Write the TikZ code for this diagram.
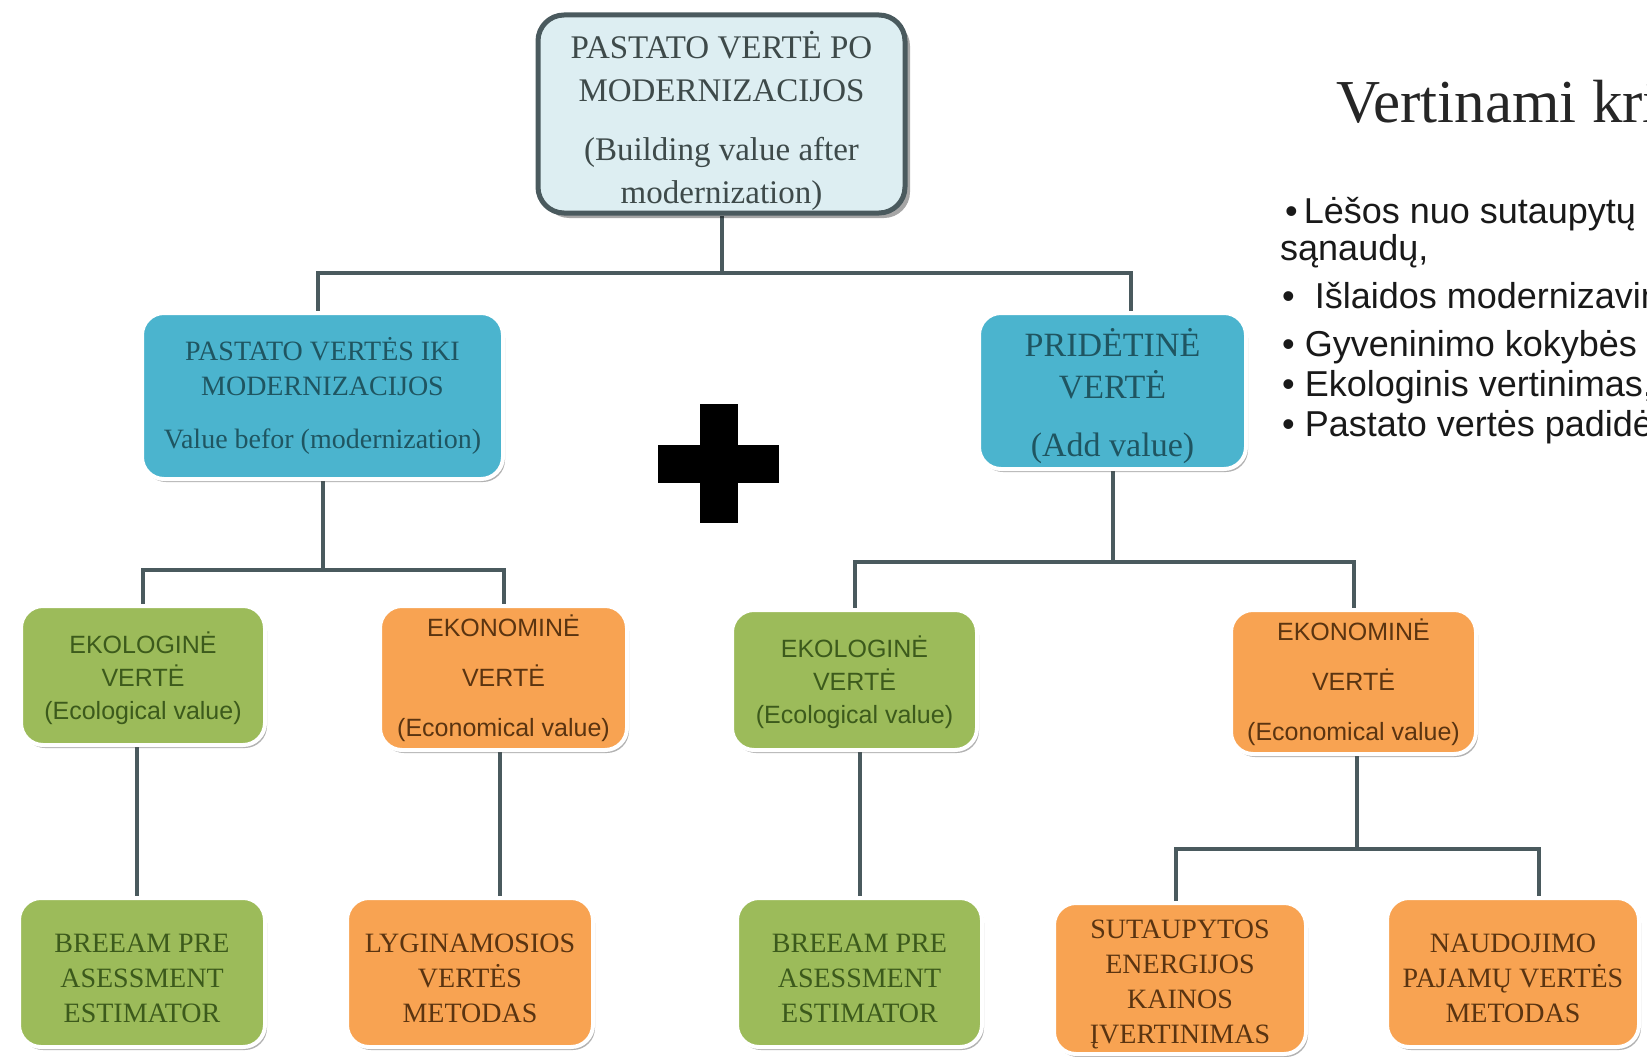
\documentclass[tikz,border=0pt]{standalone}
\usepackage{fontspec}
\setmainfont{Liberation Serif}
\newfontfamily\sansA{Liberation Sans}
\usetikzlibrary{shadows,backgrounds}
\definecolor{conncol}{HTML}{4A5A5E}
\definecolor{topfill}{HTML}{DDEEF2}
\definecolor{bluefill}{HTML}{4BB4CE}
\definecolor{bluetext}{HTML}{1F5561}
\definecolor{greenfill}{HTML}{9CBB5A}
\definecolor{greentext}{HTML}{3C5A1C}
\definecolor{orangefill}{HTML}{F8A352}
\definecolor{orangetext}{HTML}{5A3411}
\definecolor{toptext}{HTML}{3E4A4A}
\newcommand{\topstrut}[1]{\rule{0pt}{#1}}
\begin{document}
\begin{tikzpicture}[x=1pt,y=-1pt,
 box/.style={rounded corners=22pt, inner sep=0pt, align=center, draw=white, line width=4pt,
   drop shadow={shadow xshift=2pt, shadow yshift=-3pt, opacity=0.3, fill=black}},
 topbox/.style={rounded corners=26pt, inner sep=0pt, align=center, draw=conncol, line width=5pt,
   fill=topfill, text=toptext, drop shadow={shadow xshift=5pt, shadow yshift=-5pt, opacity=0.35, fill=black}},
 bluebox/.style={box, fill=bluefill, text=bluetext},
 greenbox/.style={box, fill=greenfill, text=greentext},
 orangebox/.style={box, fill=orangefill, text=orangetext},
 conn/.style={draw=conncol, line width=4pt},
 sansL/.style={font=\sansA\fontsize{25}{33}\selectfont},
 serifL/.style={font=\fontsize{28}{35}\selectfont},
 panel/.style={anchor=base west, inner sep=0pt, font=\sansA\fontsize{36}{40}\selectfont, text=black!90},
]
\useasboundingbox (0,0) rectangle (1647,1057);

% top
\node[topbox, minimum width=367pt, minimum height=198pt, font=\fontsize{33}{43}\selectfont] (top) at (721.5,114)
 {\topstrut{42pt}PASTATO VERTĖ PO\\ MODERNIZACIJOS\\[16pt] (Building value after\\ modernization)};

% level 2
\node[bluebox, minimum width=361pt, minimum height=166pt, font=\fontsize{28}{35}\selectfont] (bL) at (322.5,396)
 {PASTATO VERTĖS IKI\\ MODERNIZACIJOS\\[18pt] Value befor (modernization)};
\node[bluebox, minimum width=267pt, minimum height=156pt, font=\fontsize{34}{42}\selectfont] (bR) at (1112.5,391)
 {\topstrut{38pt}PRIDĖTINĖ\\ VERTĖ\\[16pt] (Add value)};

% plus sign
\fill[black] (658,445) rectangle (779,483);
\fill[black] (700,404) rectangle (738,523);

% level 3
\node[greenbox, sansL, minimum width=244pt, minimum height=139pt] (e1) at (143,675.5)
 {\topstrut{28pt}EKOLOGINĖ\\ VERTĖ\\ (Ecological value)};
\node[orangebox, font=\sansA\fontsize{25}{50}\selectfont, minimum width=247pt, minimum height=144pt] (n1) at (503.5,678)
 {EKONOMINĖ\\ VERTĖ\\ (Economical value)};
\node[greenbox, sansL, minimum width=245pt, minimum height=140pt] (e2) at (854.5,680)
 {\topstrut{26pt}EKOLOGINĖ\\ VERTĖ\\ (Ecological value)};
\node[orangebox, font=\sansA\fontsize{25}{50}\selectfont, minimum width=245pt, minimum height=144pt] (n2) at (1353.5,682)
 {EKONOMINĖ\\ VERTĖ\\ (Economical value)};

% level 4
\node[greenbox, serifL, minimum width=246pt, minimum height=149pt] (b1) at (142,972.5)
 {\topstrut{31pt}BREEAM PRE\\ ASESSMENT\\ ESTIMATOR};
\node[orangebox, serifL, minimum width=246pt, minimum height=149pt] (l1) at (470,972.5)
 {\topstrut{31pt}LYGINAMOSIOS\\ VERTĖS\\ METODAS};
\node[greenbox, serifL, minimum width=245pt, minimum height=149pt] (b2) at (859.5,972.5)
 {\topstrut{31pt}BREEAM PRE\\ ASESSMENT\\ ESTIMATOR};
\node[orangebox, serifL, minimum width=252pt, minimum height=151pt] (s2) at (1180,978.5)
 {\topstrut{31pt}SUTAUPYTOS\\ ENERGIJOS\\ KAINOS\\ ĮVERTINIMAS};
\node[orangebox, serifL, minimum width=252pt, minimum height=149pt] (p2) at (1513,972.5)
 {\topstrut{31pt}NAUDOJIMO\\ PAJAMŲ VERTĖS\\ METODAS};

% connectors
\coordinate (h0) at (0,273);
\coordinate (h1) at (0,570);
\coordinate (h2) at (0,562);
\coordinate (h3) at (0,849);
\begin{scope}[on background layer]
\draw[conn] (top.south) -- (top.south |- h0);
\draw[conn] ([xshift=-5pt]bL.north) |- ([xshift=18pt]bR.north |- h0) -- ([xshift=18pt]bR.north);
\draw[conn] (bL.south) -- (bL.south |- h1);
\draw[conn] (e1.north) |- (n1.north |- h1) -- (n1.north);
\draw[conn] (bR.south) -- (bR.south |- h2);
\draw[conn] (e2.north) |- (n2.north |- h2) -- (n2.north);
\draw[conn] ([xshift=-6pt]e1.south) -- ([xshift=-6pt]e1.south |- b1.north);
\draw[conn] ([xshift=-4pt]n1.south) -- ([xshift=-4pt]n1.south |- l1.north);
\draw[conn] ([xshift=5pt]e2.south) -- ([xshift=5pt]e2.south |- b2.north);
\draw[conn] ([xshift=3pt]n2.south) -- ([xshift=3pt]n2.south |- h3);
\draw[conn] ([xshift=-4pt]s2.north) |- ([xshift=26pt]p2.north |- h3) -- ([xshift=26pt]p2.north);
\end{scope}

% right panel (cut by the picture edge)
\begin{scope}
\clip (0,0) rectangle (1647,1057);
\node[anchor=base west, inner sep=0pt, font=\fontsize{61}{61}\selectfont, text=black!85] (title) at (1336,122) {Vertinami kriterijai};
\node[panel] (t1) at (1285,223) {•\kern6pt Lėšos nuo sutaupytų energijos};
\node[panel] (t2) at (1280,260) {sąnaudų,};
\node[panel] (t3) at (1282,308) {•\ \ Išlaidos modernizavimui,};
\node[panel] (t4) at (1282,356) {• Gyveninimo kokybės gerinimas,};
\node[panel] (t5) at (1282,396) {• Ekologinis vertinimas,};
\node[panel] (t6) at (1282,436) {• Pastato vertės padidėjimas};
\end{scope}
\end{tikzpicture}
\end{document}
